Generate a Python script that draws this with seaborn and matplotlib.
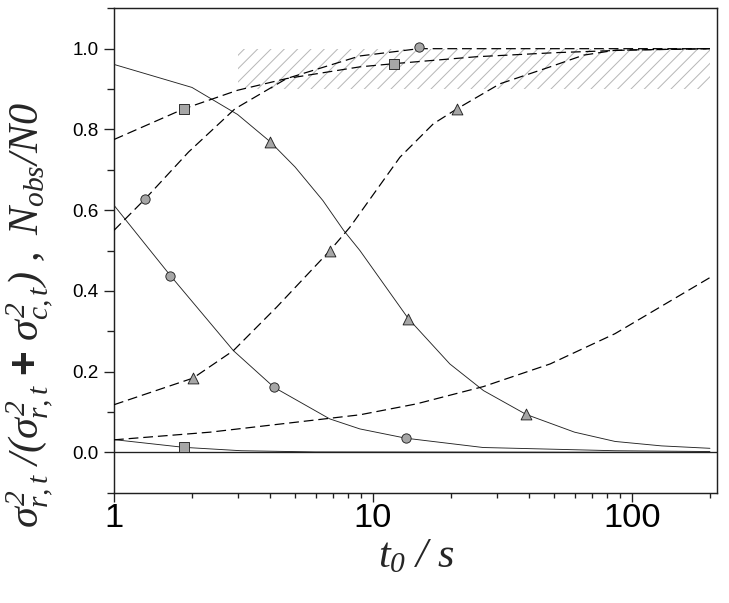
import matplotlib
matplotlib.use("Agg")
import matplotlib.pyplot as plt
from matplotlib.ticker import LogLocator, MultipleLocator, NullFormatter, FuncFormatter
from matplotlib.patches import Rectangle
import seaborn as sns
import pandas as pd

# solid curves (decreasing)
tri_solid_x = [1, 2, 3, 4, 5, 6.4, 7.7, 8.9, 13.7, 19.8, 26.7, 39, 60, 86, 130, 200]
tri_solid_y = [0.961, 0.904, 0.837, 0.770, 0.707, 0.624, 0.550, 0.500, 0.331, 0.219, 0.153, 0.094, 0.050, 0.027, 0.016, 0.010]
circ_solid_x = [1, 1.38, 1.65, 2.89, 4.15, 6.8, 8.9, 13.4, 26.6, 86, 200]
circ_solid_y = [0.612, 0.500, 0.438, 0.252, 0.161, 0.083, 0.058, 0.035, 0.012, 0.004, 0.002]
sq_solid_x = [1, 1.86, 3.1, 6, 200]
sq_solid_y = [0.0315, 0.0124, 0.004, 0.001, 0.0]

# dashed curves (increasing)
sq_dash_x = [1, 1.86, 3.0, 4.64, 8.9, 12.1, 25, 50, 100, 200]
sq_dash_y = [0.775, 0.851, 0.897, 0.926, 0.955, 0.963, 0.980, 0.990, 0.997, 1.0]
circ_dash_x = [1, 1.32, 1.94, 2.93, 4.64, 8.9, 15, 30, 200]
circ_dash_y = [0.550, 0.628, 0.744, 0.851, 0.926, 0.982, 1.0, 1.0, 1.0]
tri_dash_x = [1, 2.02, 2.89, 4.25, 6.82, 8.15, 12.7, 17.1, 21.1, 30.9, 48.3, 65, 86, 200]
tri_dash_y = [0.118, 0.184, 0.252, 0.360, 0.500, 0.558, 0.731, 0.814, 0.851, 0.913, 0.955, 0.984, 0.996, 1.0]
plain_dash_x = [1, 2.35, 8.9, 14.7, 26.7, 48.3, 86, 200]
plain_dash_y = [0.031, 0.050, 0.093, 0.120, 0.163, 0.219, 0.294, 0.433]

# measured points
sq_pts_x = [1.86, 1.86, 12.1]
sq_pts_y = [0.0124, 0.851, 0.963]
circ_pts_x = [1.65, 4.15, 13.4, 1.32, 15]
circ_pts_y = [0.438, 0.161, 0.035, 0.628, 1.003]
tri_pts_x = [4, 13.7, 39, 2.02, 6.82, 21.1]
tri_pts_y = [0.770, 0.331, 0.094, 0.184, 0.500, 0.851]

# shaded band
band_x = [3, 200]
band_y = [0.9, 1.0]

sns.set_style("ticks")
plt.rcParams["font.family"] = ["Liberation Sans", "DejaVu Sans"]
plt.rcParams["mathtext.fontset"] = "custom"
plt.rcParams["mathtext.it"] = "Liberation Serif:italic"
plt.rcParams["mathtext.rm"] = "Liberation Serif:italic"
plt.rcParams["mathtext.bf"] = "Liberation Sans:bold"
plt.rcParams["hatch.linewidth"] = 0.9

DPI = 80
fig = plt.figure(figsize=(729 / DPI, 603 / DPI), dpi=DPI)
ax = fig.add_axes([0.1564, 0.1829, 0.8272, 0.8033])

ax.add_patch(Rectangle((band_x[0], band_y[0]), band_x[1] - band_x[0], band_y[1] - band_y[0],
                       facecolor="none", edgecolor="#b8b8b8", lw=0, hatch="//", zorder=1))

ax.axhline(0, color="#202020", lw=1.2, zorder=2)

solid = [(tri_solid_x, tri_solid_y), (circ_solid_x, circ_solid_y), (sq_solid_x, sq_solid_y)]
for xs, ys in solid:
    sns.lineplot(x=xs, y=ys, ax=ax, color="#222222", lw=0.8, sort=False, estimator=None, zorder=3)

dashed = [(sq_dash_x, sq_dash_y), (circ_dash_x, circ_dash_y), (tri_dash_x, tri_dash_y), (plain_dash_x, plain_dash_y)]
for xs, ys in dashed:
    sns.lineplot(x=xs, y=ys, ax=ax, color="black", lw=1.1, sort=False, estimator=None,
                 linestyle=(0, (8, 4)), zorder=3)

for xs, ys, mk, ms in [(sq_pts_x, sq_pts_y, "s", 70), (circ_pts_x, circ_pts_y, "o", 70), (tri_pts_x, tri_pts_y, "^", 95)]:
    sns.scatterplot(x=xs, y=ys, ax=ax, marker=mk, s=ms, color="#a6a6a6", edgecolor="#202020",
                    linewidth=0.8, zorder=4)

ax.set_xscale("log")
ax.set_xlim(1, 213)
ax.set_ylim(-0.1, 1.1)
ax.xaxis.set_major_locator(LogLocator(base=10))
ax.xaxis.set_minor_locator(LogLocator(base=10, subs=range(2, 10)))
ax.xaxis.set_major_formatter(FuncFormatter(lambda v, p: f"{v:g}"))
ax.xaxis.set_minor_formatter(NullFormatter())
ax.yaxis.set_major_locator(MultipleLocator(0.2))
ax.yaxis.set_minor_locator(MultipleLocator(0.1))
ax.yaxis.set_major_formatter(FuncFormatter(lambda v, p: f"{v:.1f}"))

for side in ["left", "right", "top", "bottom"]:
    ax.spines[side].set_visible(True)
    ax.spines[side].set_linewidth(1.3)
    ax.spines[side].set_color("#202020")

ax.tick_params(axis="y", which="major", length=9, width=1.2, pad=5, labelsize=17, direction="out",
               colors="#202020", labelcolor="black")
ax.tick_params(axis="y", which="minor", length=6, width=1.2, direction="out", colors="#202020")
ax.tick_params(axis="x", which="major", length=8, width=1.2, pad=1, labelsize=31, direction="out",
               colors="#202020", labelcolor="black")
ax.tick_params(axis="x", which="minor", length=4.5, width=1.2, direction="out", colors="#202020")
for lab in ax.get_xticklabels():
    lab.set_family(["Liberation Sans Narrow", "Liberation Sans", "DejaVu Sans"])

ax.set_xlabel("")
ax.set_ylabel("")
fig.text(0.571, 0.078, r"$t_{0}\ /\ s$", fontsize=38, ha="center", va="center")
fig.text(0.040, 0.478, r"$\sigma^2_{r,t}\ /(\sigma^2_{r,t}\ \mathbf{+}\ \sigma^2_{c,t})\ ,\ N_{obs}/N0$",
         fontsize=38, rotation=90, ha="center", va="center")

fig.savefig("out.png", dpi=DPI)
plt.close(fig)
